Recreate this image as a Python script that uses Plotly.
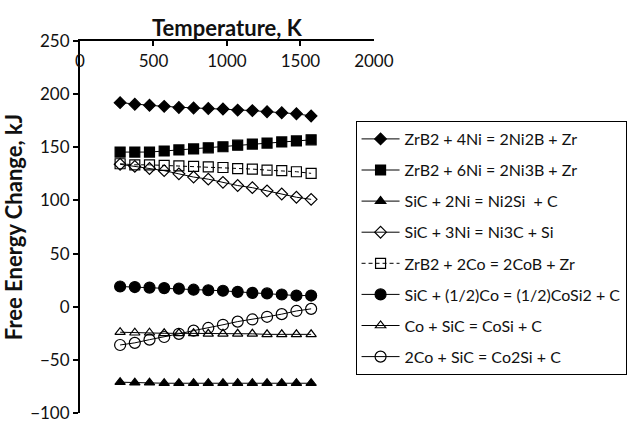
import plotly.graph_objects as go

# Temperature grid (K)
temperature = [273, 373, 473, 573, 673, 773, 873, 973, 1073, 1173, 1273, 1373, 1473, 1573]

# Free energy change of each reaction (kJ)
zrb2_4ni = [192, 190.5, 189.5, 188.5, 187.5, 187, 186.5, 186, 185, 184.5, 183.5, 182.5, 181.5, 179.5]
zrb2_6ni = [145.5, 145.5, 145.5, 146.5, 147.5, 148.5, 149.5, 150.5, 152, 153, 154, 155, 156, 157]
sic_2ni = [-71, -71.5, -71.5, -72, -72, -72, -72, -72, -72, -72, -72, -72, -72, -72]
sic_3ni = [134, 132, 130, 128, 125, 122, 120, 117, 114, 112, 109, 106, 103, 101]
zrb2_2co = [134.5, 133.5, 133.5, 133, 132.5, 132, 131.5, 131, 130, 129.5, 128.5, 128, 127, 125.5]
sic_half_co = [19, 18.5, 18, 17.5, 17, 16, 15.5, 15, 14, 13, 12.5, 11.5, 10.5, 10.5]
co_sic = [-24, -24.5, -24.5, -25, -25, -25, -25.5, -25.5, -25.5, -25.5, -26, -26, -26, -26]
co2_sic = [-36, -34, -31, -28.5, -25.5, -22.5, -20, -17, -14, -12, -9.5, -7, -4, -2]

names = [
    "ZrB2 + 4Ni = 2Ni2B + Zr",
    "ZrB2 + 6Ni = 2Ni3B + Zr",
    "SiC + 2Ni = Ni2Si  + C",
    "SiC + 3Ni = Ni3C + Si",
    "ZrB2 + 2Co = 2CoB + Zr",
    "SiC + (1/2)Co = (1/2)CoSi2 + C",
    "Co + SiC = CoSi + C",
    "2Co + SiC = Co2Si + C",
]
series = [zrb2_4ni, zrb2_6ni, sic_2ni, sic_3ni, zrb2_2co, sic_half_co, co_sic, co2_sic]
symbols = ["diamond", "square", "triangle-up", "diamond-open",
           "square-open", "circle", "triangle-up-open", "circle-open"]
sizes = [9, 10, 9, 9, 10, 11, 9, 11]
dashes = ["solid", "solid", "solid", "solid", "4px,3px", "solid", "solid", "solid"]

FONT = "Lato"
INK = "#111111"

fig = go.Figure()
for i, (name, ys, sym, sz, dash) in enumerate(zip(names, series, symbols, sizes, dashes)):
    fig.add_trace(go.Scatter(
        x=temperature, y=ys, name=name, mode="lines+markers",
        legendgroup=f"g{i}",
        line=dict(color="black", width=1, dash=dash),
        marker=dict(symbol=sym, size=sz, color="black",
                    line=dict(color="black", width=1.2)),
    ))

fig.update_layout(
    width=628, height=423, autosize=False,
    margin=dict(l=80, r=0, t=41, b=10, pad=0),
    paper_bgcolor="white", plot_bgcolor="white",
    font=dict(family=FONT, color=INK, size=16),
    showlegend=True,
    legend=dict(
        x=(366 - 80) / 548, xanchor="left",
        y=(413 - 121) / 372, yanchor="top",
        bordercolor="black", borderwidth=1, bgcolor="white",
        font=dict(family=FONT, size=16, color=INK),
        tracegroupgap=7.3, itemwidth=38,
    ),
    xaxis=dict(
        domain=[0, 305 / 548], range=[0, 2000], dtick=500,
        side="top", ticks="inside", ticklen=5, tickwidth=1.5, tickcolor="black",
        ticklabelposition="inside", ticklabeloverflow="allow",
        ticklabelstandoff=10,
        showline=True, linewidth=2, linecolor="black",
        showgrid=False, zeroline=False,
        tickfont=dict(family=FONT, size=17, color=INK),
        title=dict(text="<b>Temperature, K</b>", standoff=8,
                   font=dict(family=FONT, size=22, color=INK)),
    ),
    yaxis=dict(
        range=[-100, 250], dtick=50,
        ticks="outside", ticklen=5, tickwidth=1.5, tickcolor="black",
        ticklabeloverflow="allow",
        showline=True, linewidth=2, linecolor="black",
        showgrid=False, zeroline=False,
        tickfont=dict(family=FONT, size=17, color=INK),
        title=dict(text="<b>Free Energy Change, kJ</b>", standoff=5,
                   font=dict(family=FONT, size=22, color=INK)),
    ),
)

fig.write_html("out.html")
